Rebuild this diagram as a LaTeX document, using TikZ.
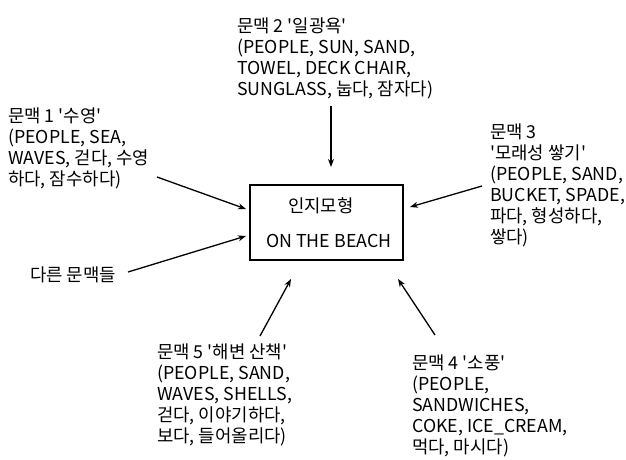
\documentclass[tikz,border=0pt]{standalone}
\usepackage{fontspec}
\newfontfamily\kr{Noto Sans CJK KR}
\usetikzlibrary{arrows.meta}
\begin{document}
\begin{tikzpicture}[x=1pt,y=-1pt,
  txt/.style={font=\kr\fontsize{17.8}{21}\selectfont, align=left, anchor=base west, inner sep=0pt},
  conn/.style={line width=1.3pt, -{Stealth[length=8pt,width=6pt]}},
  model/.style={draw, line width=1.2pt, minimum width=153pt, minimum height=75pt, inner sep=0pt}]
\useasboundingbox (0,0) rectangle (626,459);
\node[model] (box) at (326.5,222.5) {};
\node[txt] (m1) at (288,212) {인지모형};
\node[txt] (m2) at (266,247) {ON THE BEACH};
% anchor = baseline of last line
\node[txt] (c2) at (237,95) {문맥 2 \textquotesingle 일광욕\textquotesingle\\(PEOPLE, SUN, SAND,\\TOWEL, DECK CHAIR,\\SUNGLASS, 눕다, 잠자다)};
\node[txt] (c1) at (8,185.5) {문맥 1 \textquotesingle 수영\textquotesingle\\(PEOPLE, SEA,\\WAVES, 걷다, 수영\\하다, 잠수하다)};
\node[txt] (c3) at (490,243) {문맥 3\\\textquotesingle 모래성 쌓기\textquotesingle\\(PEOPLE, SAND,\\BUCKET, SPADE,\\파다, 형성하다,\\쌓다)};
\node[txt] (other) at (30,281) {다른 문맥들};
\node[txt] (c5) at (157,442) {문맥 5 \textquotesingle 해변 산책\textquotesingle\\(PEOPLE, SAND,\\WAVES, SHELLS,\\걷다, 이야기하다,\\보다, 들어올리다)};
\node[txt] (c4) at (412,453.5) {문맥 4 \textquotesingle 소풍\textquotesingle\\(PEOPLE,\\SANDWICHES,\\COKE, ICE\_CREAM,\\먹다, 마시다)};
\coordinate (s2) at (331,106);
\coordinate (e2) at (331,167);
\coordinate (s1) at (157,177);
\coordinate (e1) at (246,209);
\coordinate (so) at (128,272);
\coordinate (eo) at (246,236);
\coordinate (s3) at (482,186);
\coordinate (e3) at (410,207);
\coordinate (s5) at (260,336);
\coordinate (e5) at (291,279);
\coordinate (s4) at (435,335);
\coordinate (e4) at (398,279);
\draw[conn] (s2) -- (e2);
\draw[conn] (s1) -- (e1);
\draw[conn] (so) -- (eo);
\draw[conn] (s3) -- (e3);
\draw[conn] (s5) -- (e5);
\draw[conn] (s4) -- (e4);
\end{tikzpicture}
\end{document}
